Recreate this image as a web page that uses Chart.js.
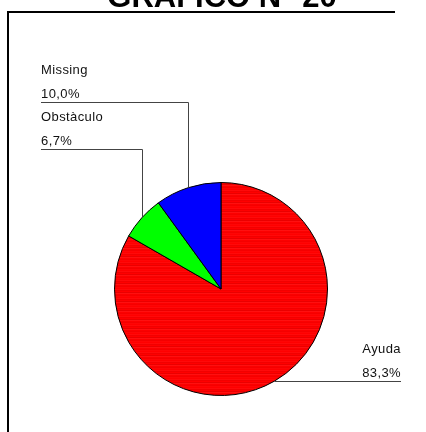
<!DOCTYPE html>
<html>
<head>
<meta charset="utf-8">
<script src="https://cdn.jsdelivr.net/npm/chart.js@4"></script>
<style>
  html, body { margin: 0; padding: 0; background: #fff; }
  #wrap { position: relative; width: 426px; height: 432px; }
</style>
</head>
<body>
<div id="wrap"><canvas id="pieChart" width="426" height="432"></canvas></div>
<script>
// grafico 20: distribucion en porcentaje
var categories = ['Ayuda', 'Obstàculo', 'Missing'];
var percents = [83.3, 6.7, 10.0];

var FONT = "Arial, 'Liberation Sans', sans-serif";

/**
 * striped red fill for the big slice
 */
function makeStripes() {
    var c = document.createElement('canvas');
    c.width = 4;
    c.height = 9;
    var g = c.getContext('2d');
    var rows = ['#ff0000', '#ff0a0a', '#f20000', '#ff0000', '#ea0000', '#ff1010', '#fc0000', '#f50000', '#ff0505'];
    rows.forEach(function (col, i) {
        g.fillStyle = col;
        g.fillRect(0, i, 4, 1);
    });
    return g.createPattern(c, 'repeat');
}

function fmt(v) {
    return v.toFixed(1).replace('.', ',') + '%';
}

// frame + cropped heading
var framePlugin = {
    id: 'frame',
    beforeDraw: function (chart) {
        var ctx = chart.ctx;
        ctx.save();
        ctx.fillStyle = '#000';
        ctx.fillRect(7, 11, 388, 2);
        ctx.fillRect(7, 11, 2, chart.height - 11);
        ctx.font = 'bold 31px ' + FONT;
        ctx.textAlign = 'center';
        ctx.textBaseline = 'alphabetic';
        ctx.fillText('GRAFICO N° 20', 222, 7);
        ctx.restore();
    }
};

// labels with leader lines
var leaderPlugin = {
    id: 'leaders',
    afterDatasetsDraw: function (chart, args, opts) {
        var ctx = chart.ctx;
        var meta = chart.getDatasetMeta(0);
        ctx.save();
        ctx.font = '13px ' + FONT;
        ctx.letterSpacing = '0.4px';
        ctx.fillStyle = '#111';
        ctx.strokeStyle = '#444';
        ctx.lineWidth = 1;
        meta.data.forEach(function (arc, i) {
            var p = arc.getProps(['x', 'y', 'startAngle', 'endAngle', 'outerRadius'], true);
            var mid = (p.startAngle + p.endAngle) / 2;
            var px = Math.round(p.x + Math.cos(mid) * p.outerRadius) + 0.5;
            var py = p.y + Math.sin(mid) * p.outerRadius;
            var name = chart.data.labels[i];
            var val = fmt(chart.data.datasets[0].data[i]);
            var lay = opts.layout[name];
            var ly;
            ctx.beginPath();
            if (lay.side === 'right') {
                ly = Math.round(py) + 0.5;
                ctx.moveTo(px, ly);
                ctx.lineTo(lay.x, ly);
                ctx.stroke();
                ctx.textAlign = 'right';
            } else {
                ly = lay.y + 0.5;
                ctx.moveTo(px, py);
                ctx.lineTo(px, ly);
                ctx.lineTo(lay.x, ly);
                ctx.stroke();
                ctx.textAlign = 'left';
            }
            ctx.fillText(name, lay.x, ly - 29);
            ctx.fillText(val, lay.x, ly - 5);
        });
        ctx.restore();
    }
};

var ctx = document.getElementById('pieChart').getContext('2d');
var pieChart = new Chart(ctx, {
    type: 'pie',
    data: {
        labels: categories,
        datasets: [{
            data: percents,
            backgroundColor: [makeStripes(), '#00ff00', '#0000ff'],
            borderColor: '#000',
            borderWidth: 1
        }]
    },
    options: {
        responsive: false,
        animation: false,
        layout: {
            padding: { left: 114, right: 98, top: 182, bottom: 36 }
        },
        plugins: {
            legend: { display: false },
            title: { display: false },
            tooltip: { enabled: false },
            leaders: {
                layout: {
                    'Ayuda': { side: 'right', x: 401 },
                    'Obstàculo': { side: 'left', x: 41, y: 149 },
                    'Missing': { side: 'left', x: 41, y: 102 }
                }
            }
        }
    },
    plugins: [framePlugin, leaderPlugin]
});
</script>
</body>
</html>
